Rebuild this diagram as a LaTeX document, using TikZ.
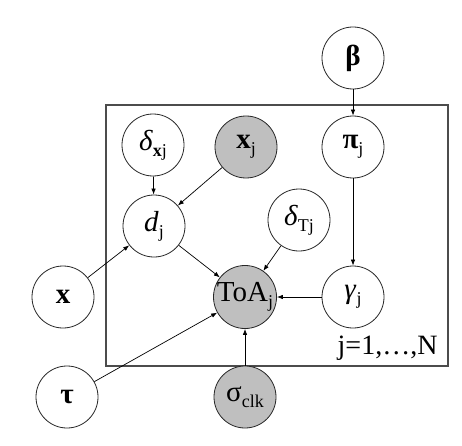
\documentclass[tikz,border=0pt]{standalone}
\usepackage{fontspec}
\setmainfont{Liberation Serif}
\usetikzlibrary{arrows.meta, positioning}
\newcommand{\sbs}[1]{\raisebox{-0.45ex}{\fontsize{18}{18}\selectfont #1}}
\tikzset{%
	rv/.style={draw=black!85, circle, minimum size=62pt, inner sep=0pt, line width=0.8pt,%
		font=\fontsize{29}{31}\selectfont, fill=white},
	obs/.style={rv, fill=black!25},
	dep/.style={->, line width=0.7pt, >={Latex[length=6pt,width=4.5pt]}},
	plate/.style={draw=black!70, line width=1.3pt}
}
\begin{document}
\begin{tikzpicture}[x=1pt, y=1pt]
		\useasboundingbox (0,0) rectangle (462,445);
		\draw[plate] (106,79) rectangle (448,340);
		\node[anchor=base east, font=\fontsize{28}{30}\selectfont] (rng) at (441,91) {j=1,…,N};

		\node[rv]  (beta) at (353,387) {\textbf{β}};
		\node[rv]  (pi)   at (353,298) {\textbf{π}\sbs{j}};
		\node[rv]  (dx)   at (153,300) {\textit{δ}\sbs{\textbf{x}j}};
		\node[obs] (xj)   at (246,298) {\textbf{x}\sbs{j}};
		\node[rv]  (d)    at (154,219) {\textit{d}\sbs{j}};
		\node[rv]  (dT)   at (299,225) {\textit{δ}\sbs{Tj}};
		\node[obs] (toa)  at (245,148) {ToA\sbs{j}};
		\node[rv]  (gam)  at (353,148) {\textit{γ}\sbs{j}};
		\node[rv]  (x)    at (63,148)  {\textbf{x}};
		\node[rv]  (tau)  at (67,48)   {\textbf{τ}};
		\node[obs] (sig)  at (245,48)  {σ\sbs{clk}};

		\draw [dep] (beta) to (pi);
		\draw [dep] (pi) to (gam);
		\draw [dep] (dx) to (d);
		\draw [dep] (xj) to (d);
		\draw [dep] (x) to (d);
		\draw [dep] (d) to (toa);
		\draw [dep] (dT) to (toa);
		\draw [dep] (gam) to (toa);
		\draw [dep] (tau) to (toa);
		\draw [dep] (sig) to (toa);
	\end{tikzpicture}
\end{document}
